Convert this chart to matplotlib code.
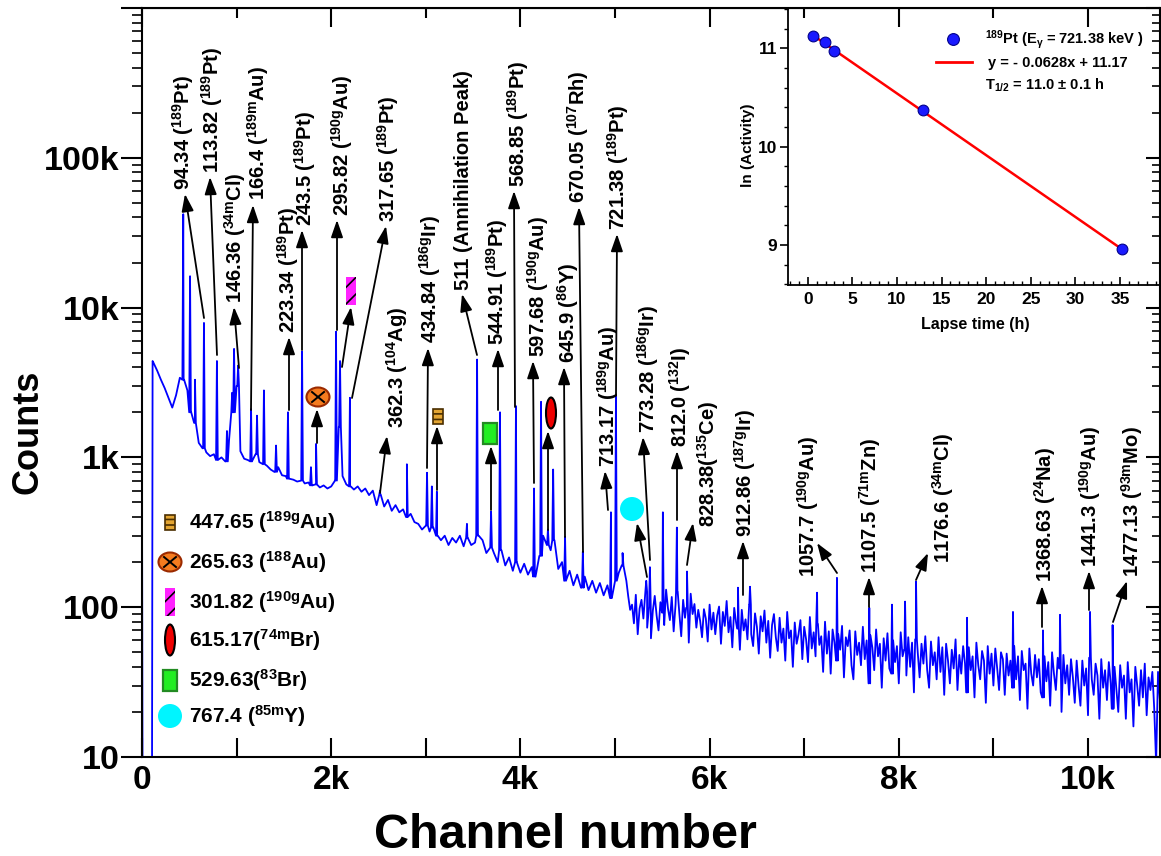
import numpy as np
import matplotlib
matplotlib.use('Agg')
import matplotlib.pyplot as plt
from matplotlib.patches import Rectangle, Ellipse
from matplotlib.ticker import MultipleLocator, LogLocator, FuncFormatter, NullFormatter

plt.rcParams['font.family'] = ['Liberation Sans', 'DejaVu Sans']
plt.rcParams['font.weight'] = 'bold'
plt.rcParams['mathtext.fontset'] = 'custom'
plt.rcParams['mathtext.rm'] = 'Liberation Sans:bold'
plt.rcParams['mathtext.it'] = 'Liberation Sans:bold'
plt.rcParams['mathtext.bf'] = 'Liberation Sans:bold'
plt.rcParams['mathtext.default'] = 'rm'
plt.rcParams['hatch.linewidth'] = 1.2

# ------------------------- spectrum data -------------------------
lead_chan = [0, 8, 104, 112]
lead_counts = [600, 1, 1, 4400]

# low-channel part, sampled every 40 channels from channel 120
bg1_start = 120
bg1_step = 40
bg1_counts = [
    4300, 3800, 3300, 2900, 2500, 2150, 2600, 3400, 3300, 2800,
    2000, 1700, 1250, 1150, 1080, 1020, 1050, 960, 1000, 940,
    1300, 2000, 3000, 1100, 980, 960, 940, 1050, 930, 900,
    880, 830, 800, 860, 760, 750, 720, 710, 690, 700,
    670, 680, 650, 660, 630, 650, 620, 640, 700, 1600,
    750, 660, 640, 610, 640, 590, 620, 560, 600, 480,
    560, 470, 520, 440, 480, 430, 450, 400, 420, 370,
    360, 330, 350, 320, 340, 300, 280, 300, 260, 290,
    270, 300, 255, 290, 260, 270, 300, 280, 230, 250,
    230, 200, 240, 190, 215, 175, 200, 170, 195, 165,
    185, 160, 220, 300, 260, 240, 280, 180, 200, 150,
    175, 140, 165, 135, 160, 130, 150, 125, 145, 120,
    140, 115, 150, 170, 190,
]

# high-channel noisy part, sampled every 20 channels from channel 5120
bg2_start = 5120
bg2_step = 20
bg2_counts = [
    150, 118, 96, 104, 78, 121, 66, 98, 112, 84, 127, 73, 101, 62, 95, 119, 88, 70, 108, 92,
    76, 131, 98, 82, 117, 69, 104, 126, 91, 64, 112, 85, 99, 58, 123, 90, 105, 73, 96, 81,
    63, 97, 84, 59, 104, 71, 92, 66, 88, 101, 57, 93, 75, 110, 68, 86, 54, 99, 79, 72,
    52, 96, 70, 83, 61, 104, 66, 55, 91, 74, 49, 87, 69, 95, 58, 81, 46, 76, 90, 63,
    51, 85, 58, 72, 44, 93, 62, 70, 40, 79, 57, 66, 82, 45, 74, 61, 43, 86, 53, 68,
    47, 77, 56, 64, 37, 80, 49, 69, 36, 71, 58, 44, 66, 52, 75, 34, 63, 55, 70, 41,
    33, 69, 48, 58, 41, 74, 45, 60, 31, 65, 54, 38, 71, 47, 57, 29, 62, 44, 67, 39,
    36, 60, 43, 55, 31, 68, 47, 52, 35, 63, 40, 58, 27, 61, 50, 34, 57, 42, 64, 38,
    29, 59, 41, 50, 33, 63, 37, 54, 26, 57, 44, 31, 52, 39, 61, 28, 48, 36, 55, 42,
    27, 54, 38, 47, 25, 58, 41, 33, 51, 44, 23, 55, 36, 49, 30, 53, 39, 28, 50, 45,
    26, 49, 35, 44, 29, 55, 33, 47, 24, 51, 38, 42, 21, 53, 36, 30, 48, 34, 45, 27,
    25, 47, 32, 43, 22, 50, 36, 28, 46, 39, 20, 48, 31, 41, 26, 45, 34, 23, 44, 30,
    22, 44, 30, 39, 19, 46, 33, 26, 42, 35, 18, 45, 29, 38, 24, 43, 31, 21, 40, 28,
    20, 41, 29, 35, 18, 43, 27, 33, 16, 40, 30, 22, 38, 25, 42, 19, 34, 28, 37, 21,
    9, 37, 24, 33, 17, 39, 26, 31, 21,
]

peak_chan = [436, 508, 560, 655, 792, 898, 953, 973, 1016, 1153, 1216, 1289, 1417,
             1543, 1692, 1786, 1840, 2051, 2093, 2198, 2516, 2800, 3013, 3064, 3117,
             3435, 3542, 3690, 3784, 3953, 4144, 4218, 4291, 4346, 4472, 4660, 4957,
             5010, 5080, 5330, 5369, 5506, 5654, 5761, 6300, 6427, 7136, 7346, 7688,
             7928, 8066, 8182, 8721, 9207, 9524, 9704, 10021, 10260]
peak_counts = [42000, 16200, 3300, 7900, 4400, 1500, 2700, 5300, 4100, 2100, 1900, 2800, 1200,
               2000, 5100, 860, 1230, 6900, 4400, 2500, 600, 900, 790, 640, 590,
               360, 4500, 435, 2000, 2200, 620, 2350, 330, 830, 295, 235, 430,
               2600, 230, 150, 185, 430, 340, 173, 135, 137, 125, 157, 99,
               104, 109, 148, 85, 93, 70, 89, 93, 76]

x_ticks = [0, 2000, 4000, 6000, 8000, 10000]
x_tick_labels = ['0', '2k', '4k', '6k', '8k', '10k']
y_tick_labels = {10: '10', 100: '100', 1000: '1k', 10000: '10k', 100000: '100k'}

# inset: decay of the 721.38 keV line
decay_time = [0.63, 1.93, 2.94, 12.88, 35.17]
ln_activity = [11.125, 11.06, 10.97, 10.37, 8.956]
fit_time = [0.63, 35.17]
fit_ln = [11.13, 8.96]

# ------------------------- peak labels: text, label (col x, bottom y), arrow tail, arrow head (px) ----
labels = [
    ('94.34 ($^{189}$Pt)', (183, 190), (204, 318), (185, 194)),
    ('113.82 ($^{189}$Pt)', (212, 173), (217, 355), (210, 177)),
    ('146.36 ($^{34m}$Cl)', (235, 303), (239, 368), (234, 307)),
    ('166.4 ($^{189m}$Au)', (258, 200), (251, 410), (253, 205)),
    ('223.34 ($^{189}$Pt)', (288, 333), (289, 410), (289, 337)),
    ('243.5 ($^{189}$Pt)', (305, 226), (302, 350), (302, 230)),
    ('295.82 ($^{190g}$Au)', (342, 216), (337, 330), (337, 220)),
    ('317.65 ($^{189}$Pt)', (388, 222), (352, 398), (386, 226)),
    ('362.3 ($^{104}$Ag)', (397, 428), (380, 493), (387, 436)),
    ('434.84 ($^{186g}$Ir)', (430, 343), (427, 468), (428, 348)),
    ('511 (Annihilation Peak)', (462, 290), (477, 355), (462, 294)),
    ('544.91 ($^{189}$Pt)', (497, 345), (498, 410), (498, 349)),
    ('568.85 ($^{189}$Pt)', (518, 187), (515, 407), (514, 191)),
    ('597.68 ($^{190g}$Au)', (538, 357), (534, 483), (533, 361)),
    ('645.9 ($^{86}$Y)', (568, 363), (565, 537), (564, 367)),
    ('670.05 ($^{107}$Rh)', (578, 203), (583, 552), (579, 207)),
    ('713.17 ($^{189g}$Au)', (608, 467), (608, 510), (605, 471)),
    ('721.38 ($^{189}$Pt)', (618, 230), (616, 395), (617, 234)),
    ('773.28 ($^{186g}$Ir)', (648, 433), (650, 560), (643, 437)),
    ('812.0 ($^{132}$I)', (680, 447), (677, 520), (677, 451)),
    ('828.38($^{135}$Ce)', (708, 527), (687, 565), (693, 523)),
    ('912.86 ($^{187g}$Ir)', (745, 537), (743, 595), (743, 541)),
    ('1057.7 ($^{190g}$Au)', (808, 577), (837, 573), (817, 543)),
    ('1107.5 ($^{71m}$Zn)', (870, 573), (869, 607), (869, 577)),
    ('1176.6 ($^{34m}$Cl)', (943, 563), (916, 580), (928, 553)),
    ('1368.63 ($^{24}$Na)', (1045, 582), (1042, 627), (1042, 586)),
    ('1441.3 ($^{190g}$Au)', (1090, 567), (1089, 610), (1089, 571)),
    ('1477.13 ($^{93m}$Mo)', (1132, 577), (1113, 622), (1127, 581)),
]

# symbol markers in the plot: kind, marker centre, arrow tail, arrow head (px)
symbols = [
    ('au188', (318, 397), (317, 443), (317, 409)),
    ('au190g', (351, 291), (342, 367), (351, 307)),
    ('au189g', (438, 416), (437, 490), (437, 426)),
    ('br83', (490, 433), (491, 510), (491, 446)),
    ('br74m', (551, 413), (548, 530), (548, 431)),
    ('y85m', (632, 509), (647, 577), (637, 523)),
]
legend_rows = [
    ('au189g', '447.65 ($^{189g}$Au)', 522),
    ('au188', '265.63 ($^{188}$Au)', 562),
    ('au190g', '301.82 ($^{190g}$Au)', 602),
    ('br74m', '615.17($^{74m}$Br)', 640),
    ('br83', '529.63($^{83}$Br)', 680),
    ('y85m', '767.4 ($^{85m}$Y)', 716),
]

# ------------------------- build spectrum polyline -------------------------
bg_chan = np.concatenate([bg1_start + bg1_step * np.arange(len(bg1_counts)),
                          bg2_start + bg2_step * np.arange(len(bg2_counts))])
bg_counts = bg1_counts + bg2_counts
pts = list(zip(lead_chan, lead_counts)) + list(zip(bg_chan, bg_counts))
for c, h in zip(peak_chan, peak_counts):
    b = bg_counts[int(np.argmin(np.abs(bg_chan - c)))]
    pts += [(c - 9, b), (c, h), (c + 9, b)]
pts.sort()
spec_x = [p[0] for p in pts]
spec_y = [p[1] for p in pts]

# ------------------------- figure -------------------------
FW, FH = 1161, 856
fig = plt.figure(figsize=(FW / 100, FH / 100), dpi=100)
ax = fig.add_axes([142 / FW, 1 - 757 / FH, 1018 / FW, 749 / FH])

AW, AH = 1018, 749


def fr(x, y):
    return ((x - 142) / AW, (757 - y) / AH)


ax.plot(spec_x, spec_y, color='#0000ff', lw=1.3, zorder=2)
ax.set_yscale('log')
ax.set_xlim(0, 10761)
ax.set_ylim(10, 1e6)

for s in ax.spines.values():
    s.set_linewidth(1.5)

ax.xaxis.set_major_locator(MultipleLocator(1000))
ax.xaxis.set_major_formatter(FuncFormatter(
    lambda v, p: x_tick_labels[x_ticks.index(int(round(v)))] if int(round(v)) in x_ticks else ''))
ax.tick_params(axis='x', which='major', direction='in', length=14, width=1.5,
               labelsize=24, pad=6)
ax.yaxis.set_major_locator(LogLocator(base=10, numticks=10))
ax.yaxis.set_minor_locator(LogLocator(base=10, subs=np.arange(2, 10), numticks=20))
ax.yaxis.set_major_formatter(FuncFormatter(lambda v, p: y_tick_labels.get(int(round(v)), '')))
ax.yaxis.set_minor_formatter(NullFormatter())
ax.tick_params(axis='y', which='major', direction='out', length=15, width=1.5,
               labelsize=24.5, pad=1)
ax.tick_params(axis='y', which='minor', direction='out', length=7, width=1.2)
for t in ax.get_xticklabels() + ax.get_yticklabels():
    t.set_fontweight('bold')

top = ax.secondary_xaxis('top')
top.xaxis.set_major_locator(MultipleLocator(2000))
top.xaxis.set_minor_locator(MultipleLocator(1000))
top.xaxis.set_major_formatter(NullFormatter())
top.tick_params(which='major', direction='in', length=14, width=1.5)
top.tick_params(which='minor', direction='in', length=7, width=1.5)

right = ax.secondary_yaxis('right')
right.yaxis.set_major_formatter(NullFormatter())
right.yaxis.set_minor_formatter(NullFormatter())
right.tick_params(which='major', direction='in', length=10, width=1.5)
right.tick_params(which='minor', direction='in', length=6, width=1.2)

fig.text(28 / FW, 1 - 432 / FH, 'Counts', rotation=90, fontsize=26, fontweight='bold',
         ha='center', va='center')
fig.text(565 / FW, 1 - 835 / FH, 'Channel number', fontsize=35, fontweight='bold',
         ha='center', va='center')

arrow_kw = dict(arrowstyle='-|>,head_length=0.75,head_width=0.26', color='black', lw=1.3,
                mutation_scale=14, shrinkA=0, shrinkB=0)

for text, (cx, by), tail, head in labels:
    ax.text(*fr(cx + 7, by), text, transform=ax.transAxes, rotation=90, rotation_mode='anchor',
            ha='left', va='baseline', fontsize=14.5, fontweight='bold')
    ax.annotate('', xy=fr(*head), xytext=fr(*tail), xycoords='axes fraction',
                textcoords='axes fraction', arrowprops=arrow_kw)


def ellipse(cx, cy, w, h, **kw):
    ax.add_patch(Ellipse(fr(cx, cy), w / AW, h / AH, transform=ax.transAxes, clip_on=False,
                         zorder=4, **kw))


def rect(cx, cy, w, h, **kw):
    ax.add_patch(Rectangle(fr(cx - w / 2, cy + h / 2), w / AW, h / AH, transform=ax.transAxes,
                           clip_on=False, zorder=4, **kw))


def draw_symbol(kind, cx, cy):
    if kind == 'au189g':
        rect(cx, cy, 10, 15, fc='#E3A532', ec='#4A2E00', lw=1.2, hatch='---')
    elif kind == 'au188':
        ellipse(cx, cy, 23, 19, fc='#F57C1F', ec='#9B2A00', lw=1.5)
        for dx, dy in [(6, 5), (6, -5)]:
            p0, p1 = fr(cx - dx, cy - dy), fr(cx + dx, cy + dy)
            ax.plot([p0[0], p1[0]], [p0[1], p1[1]], color='black', lw=1.4,
                    transform=ax.transAxes, zorder=5, clip_on=False)
    elif kind == 'au190g':
        rect(cx, cy, 10, 28, fc='#FF22FF', ec='black', lw=0, hatch='//')
    elif kind == 'br74m':
        ellipse(cx, cy, 10, 31, fc='#EE0000', ec='black', lw=1.5)
    elif kind == 'br83':
        rect(cx, cy, 14, 21, fc='#22EE22', ec='#228B22', lw=1.6)
    elif kind == 'y85m':
        ellipse(cx, cy, 24, 24, fc='#00F5FF', ec='none')


for kind, (cx, cy), tail, head in symbols:
    draw_symbol(kind, cx, cy)
    ax.annotate('', xy=fr(*head), xytext=fr(*tail), xycoords='axes fraction',
                textcoords='axes fraction', arrowprops=arrow_kw)

for kind, text, ry in legend_rows:
    draw_symbol(kind, 170, ry)
    ax.text(*fr(189, ry + 7), text, transform=ax.transAxes, ha='left', va='baseline',
            fontsize=15, fontweight='bold')

# ------------------------- inset -------------------------
axi = fig.add_axes([788 / FW, 1 - 285 / FH, 372 / FW, 277 / FH])
axi.patch.set_alpha(0)
axi.plot(fit_time, fit_ln, color='#ff0000', lw=1.8, zorder=2)
axi.scatter(decay_time, ln_activity, s=60, c='#1a1aff', edgecolors='#00008b', linewidths=0.8,
            zorder=3)
axi.set_xlim(-2.21, 39.48)
axi.set_ylim(8.593, 11.41)
for s in axi.spines.values():
    s.set_linewidth(1.3)
axi.xaxis.set_major_locator(MultipleLocator(5))
axi.xaxis.set_minor_locator(MultipleLocator(1))
axi.yaxis.set_major_locator(MultipleLocator(1))
axi.yaxis.set_minor_locator(MultipleLocator(0.2))
axi.tick_params(axis='x', which='major', direction='in', length=6, width=1.2, labelsize=12.5, pad=5)
axi.tick_params(axis='x', which='minor', direction='in', length=3, width=1.0)
axi.tick_params(axis='y', which='major', direction='out', length=6, width=1.2, labelsize=12.5, pad=2)
axi.tick_params(axis='y', which='minor', direction='out', length=3, width=1.0)
for t in axi.get_xticklabels() + axi.get_yticklabels():
    t.set_fontweight('bold')

fig.text(975 / FW, 1 - 325 / FH, 'Lapse time (h)', fontsize=11.5, fontweight='bold',
         ha='center', va='center')
fig.text(748 / FW, 1 - 145 / FH, 'ln (Activity)', rotation=90, fontsize=11, fontweight='bold',
         ha='center', va='center')


def ifr(x, y):
    return ((x - 788) / 372, (285 - y) / 277)


mx, my = ifr(953, 39)
axi.plot([mx], [my], 'o', ms=8.5, color='#1a1aff', mec='#00008b', mew=0.8, transform=axi.transAxes)
axi.text(*ifr(985, 44), '$^{189}$Pt (E$_{γ}$ = 721.38 keV )', transform=axi.transAxes,
         fontsize=10.5, fontweight='bold', ha='left', va='baseline')
l0, l1 = ifr(936, 62), ifr(972, 62)
axi.plot([l0[0], l1[0]], [l0[1], l1[1]], color='#ff0000', lw=2, transform=axi.transAxes)
axi.text(*ifr(988, 67), 'y = - 0.0628x + 11.17', transform=axi.transAxes,
         fontsize=10.5, fontweight='bold', ha='left', va='baseline')
axi.text(*ifr(985, 90), 'T$_{1/2}$ = 11.0 $\\pm$ 0.1 h', transform=axi.transAxes,
         fontsize=10.5, fontweight='bold', ha='left', va='baseline')

fig.savefig('out.png', dpi=100)
